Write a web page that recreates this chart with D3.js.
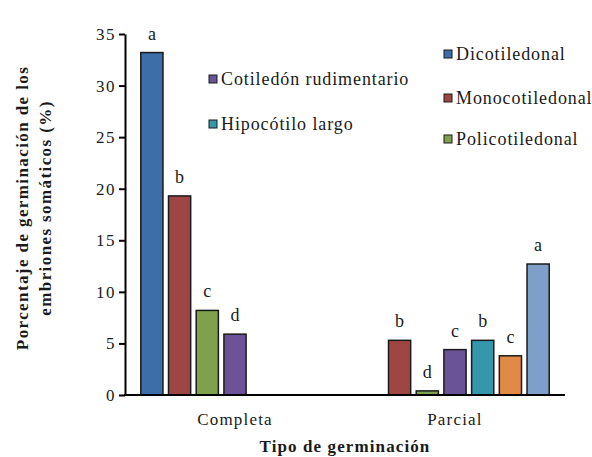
<!DOCTYPE html>
<html>
<head>
<meta charset="utf-8">
<script src="https://cdn.jsdelivr.net/npm/d3@7"></script>
<style>
  body { margin: 0; background: #fff; }
  svg text { font-family: "Liberation Serif", "Times New Roman", "DejaVu Serif", serif; fill: #1a1a1a; }
</style>
</head>
<body>
<svg id="chart" width="592" height="457"></svg>
<script>
// data
const categories = ["Completa", "Parcial"];
const series = ["Dicotiledonal", "Monocotiledonal", "Policotiledonal", "Cotiledón rudimentario", "Hipocótilo largo", "Otro 1", "Otro 2"];
const seriesColors = ["#3D6EA8", "#9E4644", "#7FA14E", "#6A5497", "#3597AB", "#E08A45", "#7F9FCB"];
const completaValues = [33.2, 19.3, 8.2, 5.9, 0, 0, 0];
const parcialValues = [0, 5.3, 0.4, 4.4, 5.3, 3.8, 12.7];
const completaLetters = ["a", "b", "c", "d", "", "", ""];
const parcialLetters = ["", "b", "d", "c", "b", "c", "a"];
const yTicks = [0, 5, 10, 15, 20, 25, 30, 35];
// legend entries shown (series index)
const legendLeft = [3, 4];
const legendRight = [0, 1, 2];

const values = [completaValues, parcialValues];
const letters = [completaLetters, parcialLetters];
const FONT = "'Liberation Serif', 'Times New Roman', 'DejaVu Serif', serif";

const svg = d3.select("#chart");

const x0 = d3.scaleBand().domain(categories).range([125, 565]);
const x1 = d3.scaleBand().domain(series).range([0, x0.bandwidth()])
  .paddingInner(0.2).paddingOuter(0.57);
const y = d3.scaleLinear().domain([0, 35]).range([395, 34]);

// y axis
const yAxis = d3.axisLeft(y).tickValues(yTicks).tickSize(6).tickSizeOuter(0);
const gy = svg.append("g").attr("transform", "translate(125,0)").call(yAxis)
  .attr("font-family", FONT);
gy.select(".domain").attr("stroke", "#000").attr("stroke-width", 2);
gy.selectAll(".tick line").attr("stroke", "#000").attr("stroke-width", 2);
gy.selectAll(".tick text").attr("font-size", 17).attr("x", -9)
  .attr("letter-spacing", 1.5)
  .attr("font-family", FONT).attr("fill", "#1a1a1a");

// bars
categories.forEach((cat, ci) => {
  const g = svg.append("g").attr("transform", `translate(${x0(cat)},0)`);
  series.forEach((s, si) => {
    const v = values[ci][si];
    if (v <= 0) return;
    g.append("rect")
      .attr("x", x1(s))
      .attr("y", y(v))
      .attr("width", x1.bandwidth())
      .attr("height", y(0) - y(v))
      .attr("fill", seriesColors[si])
      .attr("stroke", "#1a1a1a")
      .attr("stroke-width", 1.5);
    if (letters[ci][si]) {
      g.append("text")
        .attr("x", x1(s) + x1.bandwidth() / 2)
        .attr("y", y(v) - 13)
        .attr("text-anchor", "middle")
        .attr("font-family", FONT)
        .attr("font-size", 18)
        .text(letters[ci][si]);
    }
  });
});

// x axis
svg.append("line")
  .attr("x1", 124).attr("x2", 565)
  .attr("y1", y(0)).attr("y2", y(0))
  .attr("stroke", "#000").attr("stroke-width", 2);

svg.selectAll(".cat-label")
  .data(categories)
  .enter()
  .append("text")
  .attr("class", "cat-label")
  .attr("x", d => x0(d) + x0.bandwidth() / 2)
  .attr("y", 425)
  .attr("text-anchor", "middle")
  .attr("font-family", FONT)
  .attr("font-size", 17)
  .attr("letter-spacing", 1.2)
  .text(d => d);

// axis titles
svg.append("text")
  .attr("x", 345).attr("y", 452)
  .attr("text-anchor", "middle")
  .attr("font-family", FONT)
  .attr("font-size", 17).attr("font-weight", "bold")
  .attr("letter-spacing", 1.1)
  .text("Tipo de germinación");

const yTitle = svg.append("text")
  .attr("transform", "translate(28,208) rotate(-90)")
  .attr("text-anchor", "middle")
  .attr("font-family", FONT)
  .attr("font-size", 17).attr("font-weight", "bold")
  .attr("letter-spacing", 1.4);
yTitle.append("tspan").attr("x", 0).attr("dy", 0).text("Porcentaje de germinación de los");
yTitle.append("tspan").attr("x", 0).attr("dy", 23).text("embriones somáticos (%)");

// legend
function drawLegend(items, lx, ys) {
  items.forEach((si, i) => {
    svg.append("rect")
      .attr("x", lx).attr("y", ys[i] - 4)
      .attr("width", 8).attr("height", 8)
      .attr("fill", seriesColors[si])
      .attr("stroke", "#1a1a1a").attr("stroke-width", 1);
    svg.append("text")
      .attr("x", lx + 12).attr("y", ys[i] + 6)
      .attr("font-family", FONT)
      .attr("font-size", 18)
      .attr("letter-spacing", 0.9)
      .text(series[si]);
  });
}
drawLegend(legendLeft, 209, [79, 124]);
drawLegend(legendRight, 444, [54, 98, 139]);
</script>
</body>
</html>
